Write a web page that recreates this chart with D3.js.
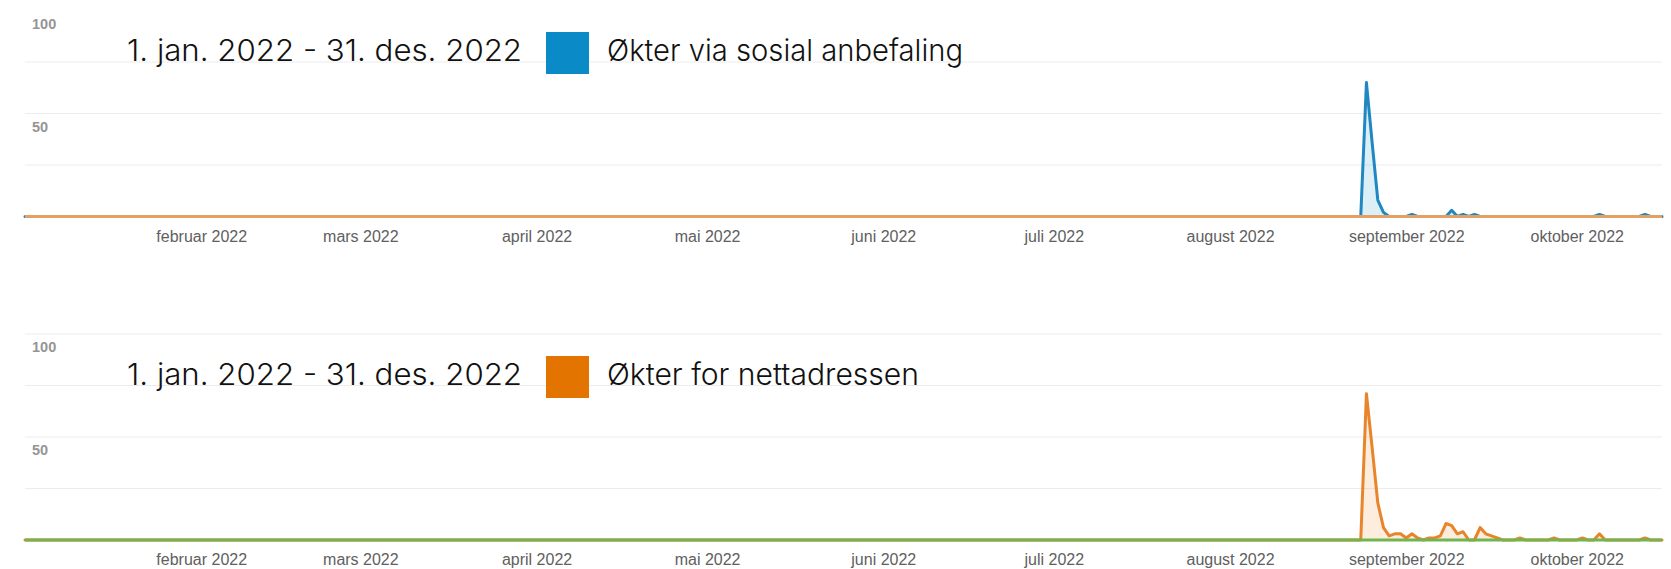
<!DOCTYPE html>
<html>
<head>
<meta charset="utf-8">
<script src="https://cdn.jsdelivr.net/npm/d3@7/dist/d3.min.js"></script>
<style>
  html, body { margin: 0; padding: 0; background: #ffffff; }
  svg { display: block; }
</style>
</head>
<body>
<svg id="chart" width="1671" height="569"></svg>
<script>
// ---------- DATA ----------
const dateRangeLabel = "1. jan. 2022 - 31. des. 2022";
const seriesNames = ["Økter via sosial anbefaling", "Økter for nettadressen"];
const monthTickDates = ["2022-02-01","2022-03-01","2022-04-01","2022-05-01","2022-06-01","2022-07-01","2022-08-01","2022-09-01","2022-10-01"];
const monthTickLabels = ["februar 2022","mars 2022","april 2022","mai 2022","juni 2022","juli 2022","august 2022","september 2022","oktober 2022"];
const yTickValues = [50, 100];
const yGridValuesTop = [25, 50, 75];
const yGridValuesBottom = [25, 50, 75, 100];
const firstDay = "2022-01-01";
const lastDay = "2022-10-16";

// days with sessions (all other days are 0)
const socialDates  = ["2022-08-25","2022-08-26","2022-08-27","2022-08-28","2022-09-02","2022-09-09","2022-09-11","2022-09-13","2022-10-05","2022-10-13"];
const socialValues = [65, 36, 8, 2, 1, 3, 1, 1, 1, 1];

const urlDates  = ["2022-08-25","2022-08-26","2022-08-27","2022-08-28","2022-08-29","2022-08-30","2022-08-31","2022-09-01","2022-09-02","2022-09-03",
                   "2022-09-05","2022-09-06","2022-09-07","2022-09-08","2022-09-09","2022-09-10","2022-09-11","2022-09-14","2022-09-15","2022-09-16",
                   "2022-09-17","2022-09-21","2022-09-27","2022-10-02","2022-10-05","2022-10-13"];
const urlValues = [71, 45, 18, 6, 2, 3, 3, 1, 3, 1,
                   1, 1, 2, 8, 7, 3, 4, 6, 3, 2,
                   1, 1, 1, 1, 3, 1];

// ---------- BUILD DAILY SERIES ----------
const parse = d3.timeParse("%Y-%m-%d");
const fmt = d3.timeFormat("%Y-%m-%d");
const allDays = d3.timeDay.range(parse(firstDay), d3.timeDay.offset(parse(lastDay), 1));
function daily(dates, values) {
  const m = new Map(dates.map((d, i) => [d, values[i]]));
  return allDays.map(d => ({ date: d, value: m.has(fmt(d)) ? m.get(fmt(d)) : 0 }));
}
const socialSeries = daily(socialDates, socialValues);
const urlSeries = daily(urlDates, urlValues);
const zeroSeries = daily([], []);

// ---------- DRAW ----------
const svg = d3.select("#chart");
const x = d3.scaleTime().domain([parse(firstDay), parse(lastDay)]).range([25, 1662]);

const panels = [
  { y0: 216.5, series: socialSeries, name: seriesNames[0], lineColor: "#1f88c2", fill: "rgba(5,141,199,0.14)",
    swatch: "#0a8bc8", baseColor: "#e3a062", textBaseline: 61, swatchY: 32, legendWidth: 356, grid: yGridValuesTop },
  { y0: 540, series: urlSeries, name: seriesNames[1], lineColor: "#e8842c", fill: "rgba(237,126,23,0.14)",
    swatch: "#e37400", baseColor: "#72b44f", textBaseline: 385, swatchY: 356, legendWidth: 312, grid: yGridValuesBottom }
];

panels.forEach(p => {
  const y = d3.scaleLinear().domain([0, 100]).range([p.y0, p.y0 - 206]);
  const g = svg.append("g");

  // gridlines
  g.selectAll("line.grid").data(p.grid).enter().append("line")
    .attr("x1", 25).attr("x2", 1662)
    .attr("y1", d => y(d)).attr("y2", d => y(d))
    .attr("stroke", "#ececec").attr("stroke-width", 1);

  // y labels (below gridlines, inside chart)
  const yAxis = d3.axisRight(y).tickValues(yTickValues).tickSize(0).tickFormat(d3.format("d"));
  const ya = g.append("g").attr("transform", "translate(32,13)").call(yAxis);
  ya.select(".domain").remove();
  ya.selectAll("text").attr("x", 0).attr("text-anchor", "start")
    .attr("font-family", "'Liberation Sans', Arial, sans-serif").attr("font-weight", "bold")
    .attr("font-size", 14.5).attr("fill", "#959595");

  // x axis labels
  const xAxis = d3.axisBottom(x).tickValues(monthTickDates.map(parse))
    .tickFormat((d, i) => monthTickLabels[i]).tickSize(0);
  const xa = g.append("g").attr("transform", `translate(0,${p.y0 + 11})`).call(xAxis);
  xa.select(".domain").remove();
  xa.selectAll("text").attr("dy", "0.71em")
    .attr("font-family", "'Liberation Sans', Arial, sans-serif")
    .attr("font-size", 16).attr("fill", "#606060");

  // area + line
  const area = d3.area().x(d => x(d.date)).y0(y(0)).y1(d => y(d.value));
  const line = d3.line().x(d => x(d.date)).y(d => y(d.value));
  g.append("path").datum(p.series).attr("d", area).attr("fill", p.fill);
  g.append("path").datum(p.series).attr("d", line).attr("fill", "none")
    .attr("stroke", p.lineColor).attr("stroke-width", 3)
    .attr("stroke-linejoin", "round").attr("stroke-linecap", "round");

  // comparison zero line along the base
  g.append("path").datum(zeroSeries).attr("d", line).attr("fill", "none")
    .attr("stroke", p.baseColor).attr("stroke-width", 2.8);

  // legend
  g.append("text").attr("x", 127).attr("y", p.textBaseline)
    .attr("font-family", "Inter, 'Noto Sans', sans-serif").attr("font-weight", 300)
    .attr("font-size", 30).attr("fill", "#111").text(dateRangeLabel)
    .attr("textLength", 395).attr("lengthAdjust", "spacingAndGlyphs");

  g.append("rect").attr("x", 546).attr("y", p.swatchY).attr("width", 43).attr("height", 42)
    .attr("fill", p.swatch);

  g.append("text").attr("x", 607).attr("y", p.textBaseline)
    .attr("font-family", "Inter, 'Noto Sans', sans-serif").attr("font-weight", 300)
    .attr("font-size", 30).attr("fill", "#111").text(p.name)
    .attr("textLength", p.legendWidth).attr("lengthAdjust", "spacingAndGlyphs");
});
</script>
</body>
</html>
